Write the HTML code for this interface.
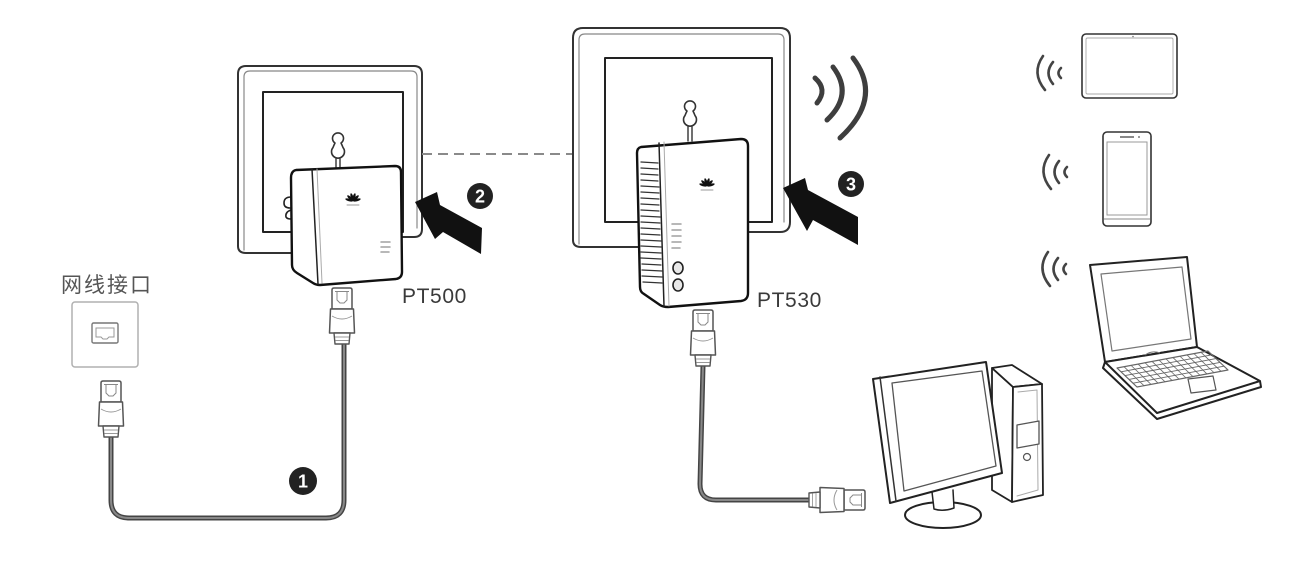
<!DOCTYPE html>
<html><head><meta charset="utf-8">
<style>
html,body{margin:0;padding:0;background:#fff;}
svg{display:block;}
</style></head>
<body>
<svg width="1307" height="574" viewBox="0 0 1307 574" xmlns="http://www.w3.org/2000/svg">
<rect x="0" y="0" width="1307" height="574" fill="#fff"/>

<!-- ===== Plate 1 ===== -->
<g fill="none" stroke-linecap="round" stroke-linejoin="round">
  <path d="M238,246 L238,74 Q238,66 246,66 L414,66 Q422,66 422,74 L422,229 Q422,237 414,237 L400,237" stroke="#333" stroke-width="2"/>
  <path d="M238,246 Q238,253 246,253 L294,253" stroke="#333" stroke-width="2"/>
  <path d="M244,250 L244,77 Q244,71 250,71 L411,71 Q417,71 417,77 L417,228" stroke="#888" stroke-width="1.2"/>
  <rect x="263" y="92" width="140" height="140" stroke="#222" stroke-width="2"/>
  <!-- keyhole -->
  <path d="M335,143 A5.5,5.5 0 1,1 341,143 Q342,145 343,147.5 A6.5,6.5 0 1,1 333,147.5 Q334,145 335,143 Z" stroke="#333" stroke-width="1.6"/>
  <path d="M336,159 L336,168 M340,159 L340,168" stroke="#333" stroke-width="1.4"/>
</g>

<!-- dashed link -->
<line x1="422" y1="154" x2="573" y2="154" stroke="#8a8a8a" stroke-width="2" stroke-dasharray="10,6"/>

<!-- ===== Plate 2 ===== -->
<g fill="none" stroke-linecap="round" stroke-linejoin="round">
  <path d="M573,240 L573,38 Q573,28 583,28 L780,28 Q790,28 790,38 L790,222 Q790,232 780,232 L747,232" stroke="#333" stroke-width="2"/>
  <path d="M573,240 Q573,247 581,247 L640,247" stroke="#333" stroke-width="2"/>
  <path d="M579,244 L579,40 Q579,34 585,34 L778,34 Q784,34 784,40 L784,222" stroke="#888" stroke-width="1.2"/>
  <rect x="605" y="58" width="167" height="164" stroke="#222" stroke-width="2"/>
  <path d="M687,111 A5.5,5.5 0 1,1 693,111 Q694,113 695,115.5 A6.5,6.5 0 1,1 685,115.5 Q686,113 687,111 Z" stroke="#333" stroke-width="1.6"/>
  <path d="M688,127 L688,141 M692,127 L692,141" stroke="#333" stroke-width="1.4"/>
</g>

<!-- waves -->
<g fill="none" stroke="#3e3e3e" stroke-width="5" stroke-linecap="round">
  <path d="M815,78 Q828,89.5 817,103"/>
  <path d="M833,67 Q854,94.5 827,120"/>
  <path d="M853,58 Q883.5,98 840,138"/>
</g>

<!-- ===== PT500 device ===== -->
<g stroke-linejoin="round" stroke-linecap="round">
  <path d="M291,197 Q284,197 284,203 Q284,208 290,208 M291,210 Q285,212 286,217 Q287,219 291,219" fill="none" stroke="#222" stroke-width="1.6"/>
  <path d="M296,170 L395,166 Q401,166 401,172 L402,272 Q402,278 396,279 L320,285 Q316,285 313,283 L297,273 Q292,270 292,265 L291,178 Q291,171 296,170 Z" fill="#fff" stroke="#111" stroke-width="2.4"/>
  <path d="M312,169 L318,284" stroke="#222" stroke-width="1.5" fill="none"/>
  <path d="M317,169 L322,283" stroke="#aaa" stroke-width="1" fill="none"/>
  <g transform="translate(353,201)" fill="#111">
    <ellipse cx="0" cy="-4" rx="1.3" ry="4" transform="rotate(-75)"/>
    <ellipse cx="0" cy="-4" rx="1.3" ry="4" transform="rotate(-45)"/>
    <ellipse cx="0" cy="-4" rx="1.3" ry="4" transform="rotate(-15)"/>
    <ellipse cx="0" cy="-4" rx="1.3" ry="4" transform="rotate(15)"/>
    <ellipse cx="0" cy="-4" rx="1.3" ry="4" transform="rotate(45)"/>
    <ellipse cx="0" cy="-4" rx="1.3" ry="4" transform="rotate(75)"/>
  </g>
  <line x1="347" y1="205" x2="359" y2="205" stroke="#999" stroke-width="0.9"/>
  <g stroke="#a0a0a0" stroke-width="1.5">
    <line x1="381" y1="242" x2="390" y2="242"/>
    <line x1="381" y1="247" x2="390" y2="247"/>
    <line x1="381" y1="252" x2="389" y2="252"/>
  </g>
</g>

<!-- ===== PT530 device ===== -->
<g stroke-linejoin="round" stroke-linecap="round">
  <path d="M641,147 L741,139 Q748,139 748,146 L748,293 Q748,300 741,301 L668,307 Q663,307 660,305 L644,294 Q640,292 640,287 L637,153 Q637,148 641,147 Z" fill="#fff" stroke="#111" stroke-width="2.4"/>
  <path d="M659,143 L664,306" stroke="#222" stroke-width="1.5" fill="none"/>
  <path d="M664,142 L669,306" stroke="#aaa" stroke-width="1" fill="none"/>
  <g stroke="#333" stroke-width="1.3">
    <line x1="641" y1="162" x2="658" y2="163"/><line x1="641" y1="168" x2="658" y2="169"/>
    <line x1="641" y1="174" x2="658" y2="175"/><line x1="641" y1="180" x2="658" y2="181"/>
    <line x1="641" y1="186" x2="659" y2="187"/><line x1="641" y1="192" x2="659" y2="193"/>
    <line x1="641" y1="198" x2="659" y2="199"/><line x1="641" y1="204" x2="659" y2="205"/>
    <line x1="641" y1="210" x2="659" y2="211"/><line x1="641" y1="216" x2="660" y2="217"/>
    <line x1="641" y1="222" x2="660" y2="223"/><line x1="641" y1="228" x2="660" y2="229"/>
    <line x1="641" y1="234" x2="660" y2="235"/><line x1="641" y1="240" x2="661" y2="241"/>
    <line x1="641" y1="246" x2="661" y2="247"/><line x1="641" y1="252" x2="661" y2="253"/>
    <line x1="641" y1="258" x2="661" y2="259"/><line x1="642" y1="264" x2="661" y2="265"/>
    <line x1="642" y1="270" x2="662" y2="271"/><line x1="642" y1="276" x2="662" y2="277"/>
    <line x1="643" y1="282" x2="662" y2="283"/>
  </g>
  <g transform="translate(707,186)" fill="#111">
    <ellipse cx="0" cy="-4" rx="1.3" ry="4" transform="rotate(-75)"/>
    <ellipse cx="0" cy="-4" rx="1.3" ry="4" transform="rotate(-45)"/>
    <ellipse cx="0" cy="-4" rx="1.3" ry="4" transform="rotate(-15)"/>
    <ellipse cx="0" cy="-4" rx="1.3" ry="4" transform="rotate(15)"/>
    <ellipse cx="0" cy="-4" rx="1.3" ry="4" transform="rotate(45)"/>
    <ellipse cx="0" cy="-4" rx="1.3" ry="4" transform="rotate(75)"/>
  </g>
  <line x1="701" y1="190" x2="713" y2="190" stroke="#999" stroke-width="0.9"/>
  <g stroke="#a0a0a0" stroke-width="1.5">
    <line x1="672" y1="224" x2="681" y2="224"/>
    <line x1="672" y1="230" x2="681" y2="230"/>
    <line x1="672" y1="236" x2="681" y2="236"/>
    <line x1="672" y1="242" x2="681" y2="242"/>
    <line x1="672" y1="248" x2="680" y2="248"/>
  </g>
  <ellipse cx="678" cy="268" rx="5" ry="6" fill="#e8e8e8" stroke="#222" stroke-width="1.6"/>
  <ellipse cx="678" cy="285" rx="5" ry="6" fill="#e8e8e8" stroke="#222" stroke-width="1.6"/>
</g>

<!-- ===== Arrows ===== -->
<polygon points="415,202 437,192 440,205 482,228 481,254 443,232 435,239" fill="#111"/>
<polygon points="783,188 805,178 808,190 858,217 858,245 813,220 807,231" fill="#111"/>

<!-- badges -->
<g font-family="Liberation Sans, sans-serif" font-weight="bold" font-size="18" fill="#fff" text-anchor="middle">
  <circle cx="303" cy="481" r="14" fill="#222"/>
  <text x="303" y="487.5">1</text>
  <circle cx="480" cy="196" r="13" fill="#222"/>
  <text x="480" y="202.5">2</text>
  <circle cx="851" cy="184" r="13" fill="#222"/>
  <text x="851" y="190.5">3</text>
</g>

<!-- labels -->
<g font-family="Liberation Sans, sans-serif" font-size="21" fill="#3a3a3a" letter-spacing="0.6">
  <text x="402" y="303">PT500</text>
  <text x="757" y="307">PT530</text>
</g>
<text x="61" y="292" font-family="Liberation Sans, 'Noto Sans CJK SC', sans-serif" font-size="21" letter-spacing="2" fill="#555">网线接口</text>

<!-- wall port -->
<rect x="72" y="302" width="66" height="65" rx="3" fill="#fff" stroke="#b0b0b0" stroke-width="1.5"/>
<rect x="92" y="323" width="26" height="20" rx="1.5" fill="#fff" stroke="#777" stroke-width="1.4"/>
<path d="M96,328 L114,328 L114,337 L109,337 L107,339 L103,339 L101,337 L96,337 Z" fill="none" stroke="#999" stroke-width="1"/>

<!-- ===== Cables ===== -->
<g fill="none" stroke-linecap="round" stroke-linejoin="round">
  <path d="M111,437 L111,500 Q111,518 129,518 L326,518 Q344,518 344,500 L344,344" stroke="#444" stroke-width="5"/>
  <path d="M111,437 L111,500 Q111,518 129,518 L326,518 Q344,518 344,500 L344,344" stroke="#888" stroke-width="2"/>
  <path d="M703,366 L700,484 Q700,500 716,500 L810,500" stroke="#444" stroke-width="5"/>
  <path d="M703,366 L700,484 Q700,500 716,500 L810,500" stroke="#888" stroke-width="2"/>
</g>

<!-- ===== Plugs ===== -->
<g id="plugA" transform="translate(111,381)" stroke-linejoin="round">
  <path d="M-10,2 Q-10,0 -8,0 L8,0 Q10,0 10,2 L10,21 L-10,21 Z" fill="#fff" stroke="#555" stroke-width="1.5"/>
  <path d="M-5,3 L-5,12 L-2,15 L2,15 L5,12 L5,3 M-7,3.5 L7,3.5" fill="none" stroke="#888" stroke-width="1"/>
  <path d="M-11.5,21 L11.5,21 L12.5,45 L-12.5,45 Z" fill="#fff" stroke="#555" stroke-width="1.5"/>
  <path d="M-10,28 Q0,34 10,28" fill="none" stroke="#999" stroke-width="1"/>
  <path d="M-8,45 L8,45 L7,56 L-7,56 Z" fill="#fff" stroke="#555" stroke-width="1.4"/>
  <path d="M-7,49 L7,49 M-6.5,52.5 L6.5,52.5" stroke="#999" stroke-width="0.9"/>
</g>
<g transform="translate(342,288)" stroke-linejoin="round">
  <path d="M-10,2 Q-10,0 -8,0 L8,0 Q10,0 10,2 L10,21 L-10,21 Z" fill="#fff" stroke="#555" stroke-width="1.5"/>
  <path d="M-5,3 L-5,12 L-2,15 L2,15 L5,12 L5,3 M-7,3.5 L7,3.5" fill="none" stroke="#888" stroke-width="1"/>
  <path d="M-11.5,21 L11.5,21 L12.5,45 L-12.5,45 Z" fill="#fff" stroke="#555" stroke-width="1.5"/>
  <path d="M-10,28 Q0,34 10,28" fill="none" stroke="#999" stroke-width="1"/>
  <path d="M-8,45 L8,45 L7,56 L-7,56 Z" fill="#fff" stroke="#555" stroke-width="1.4"/>
  <path d="M-7,49 L7,49 M-6.5,52.5 L6.5,52.5" stroke="#999" stroke-width="0.9"/>
</g>
<g transform="translate(703,310)" stroke-linejoin="round">
  <path d="M-10,2 Q-10,0 -8,0 L8,0 Q10,0 10,2 L10,21 L-10,21 Z" fill="#fff" stroke="#555" stroke-width="1.5"/>
  <path d="M-5,3 L-5,12 L-2,15 L2,15 L5,12 L5,3 M-7,3.5 L7,3.5" fill="none" stroke="#888" stroke-width="1"/>
  <path d="M-11.5,21 L11.5,21 L12.5,45 L-12.5,45 Z" fill="#fff" stroke="#555" stroke-width="1.5"/>
  <path d="M-10,28 Q0,34 10,28" fill="none" stroke="#999" stroke-width="1"/>
  <path d="M-8,45 L8,45 L7,56 L-7,56 Z" fill="#fff" stroke="#555" stroke-width="1.4"/>
  <path d="M-7,49 L7,49 M-6.5,52.5 L6.5,52.5" stroke="#999" stroke-width="0.9"/>
</g>
<g transform="translate(865,500) rotate(90)" stroke-linejoin="round">
  <path d="M-10,2 Q-10,0 -8,0 L8,0 Q10,0 10,2 L10,21 L-10,21 Z" fill="#fff" stroke="#555" stroke-width="1.5"/>
  <path d="M-5,3 L-5,12 L-2,15 L2,15 L5,12 L5,3 M-7,3.5 L7,3.5" fill="none" stroke="#888" stroke-width="1"/>
  <path d="M-11.5,21 L11.5,21 L12.5,45 L-12.5,45 Z" fill="#fff" stroke="#555" stroke-width="1.5"/>
  <path d="M-10,28 Q0,34 10,28" fill="none" stroke="#999" stroke-width="1"/>
  <path d="M-8,45 L8,45 L7,56 L-7,56 Z" fill="#fff" stroke="#555" stroke-width="1.4"/>
  <path d="M-7,49 L7,49 M-6.5,52.5 L6.5,52.5" stroke="#999" stroke-width="0.9"/>
</g>

<!-- ===== Desktop computer ===== -->
<g stroke-linejoin="round" stroke-linecap="round">
  <!-- tower -->
  <polygon points="992,368 1013,387 1012,502 992,490" fill="#fff" stroke="#222" stroke-width="1.8"/>
  <polygon points="992,368 1012,365 1042,384 1013,387" fill="#fff" stroke="#222" stroke-width="1.8"/>
  <polygon points="1013,387 1042,384 1043,495 1012,502" fill="#fff" stroke="#222" stroke-width="1.8"/>
  <polyline points="1018,392 1037,390 1038,490 1017,496" fill="none" stroke="#aaa" stroke-width="1"/>
  <polygon points="1017,425 1039,421 1039,444 1017,448" fill="#fff" stroke="#555" stroke-width="1.3"/>
  <circle cx="1027" cy="457" r="3.5" fill="#fff" stroke="#555" stroke-width="1.2"/>
  <!-- stand -->
  <ellipse cx="943" cy="515" rx="38" ry="13" fill="#fff" stroke="#222" stroke-width="2"/>
  <path d="M932,492 L934,509 Q943,512 954,508 L953,490" fill="#fff" stroke="#222" stroke-width="1.5"/>
  <!-- monitor -->
  <polygon points="873,379 986,362 1002,473 890,503" fill="#fff" stroke="#222" stroke-width="2"/>
  <line x1="880" y1="377" x2="896" y2="501" stroke="#333" stroke-width="1.5"/>
  <polygon points="892,383 982,371 996,466 904,491" fill="none" stroke="#555" stroke-width="1.3"/>
</g>

<!-- ===== Wireless icons ===== -->
<g fill="none" stroke="#444" stroke-width="2.6" stroke-linecap="round">
  <path d="M1043,56 Q1031,73 1045,90"/>
  <path d="M1053,62 Q1044,73 1053,84"/>
  <path d="M1061,68 Q1056,73 1061,78"/>

  <path d="M1049,155 Q1037,172 1051,189"/>
  <path d="M1059,161 Q1050,172 1059,183"/>
  <path d="M1067,167 Q1062,172 1067,177"/>

  <path d="M1048,252 Q1036,269 1050,286"/>
  <path d="M1058,258 Q1049,269 1058,280"/>
  <path d="M1066,264 Q1061,269 1066,274"/>
</g>

<!-- tablet -->
<rect x="1082" y="34" width="95" height="64" rx="4" fill="#fff" stroke="#333" stroke-width="1.6"/>
<rect x="1086" y="38" width="87" height="56" rx="1.5" fill="none" stroke="#aaa" stroke-width="0.9"/>
<circle cx="1133" cy="36.5" r="0.8" fill="#777"/>

<!-- phone -->
<rect x="1103" y="132" width="48" height="94" rx="4" fill="#fff" stroke="#333" stroke-width="1.6"/>
<rect x="1107" y="142" width="40" height="73" fill="none" stroke="#999" stroke-width="1"/>
<line x1="1120" y1="137" x2="1134" y2="137" stroke="#555" stroke-width="1.4"/>
<circle cx="1139" cy="137" r="0.9" fill="#555"/>
<line x1="1104" y1="219" x2="1150" y2="219" stroke="#888" stroke-width="1"/>

<!-- laptop -->
<g stroke-linejoin="round">
  <polygon points="1090,265 1187,257 1197,347 1105,362" fill="#fff" stroke="#222" stroke-width="2"/>
  <polygon points="1101,274 1182,267 1191,339 1112,351" fill="none" stroke="#777" stroke-width="1.2"/>
  <path d="M1105,362 L1103,368 L1157,419 L1261,387 L1260,381" fill="#fff" stroke="#222" stroke-width="2"/>
  <polygon points="1105,362 1197,347 1260,381 1157,413" fill="#fff" stroke="#222" stroke-width="2"/>
  <path d="M1145,355 Q1152,350 1160,353" fill="none" stroke="#777" stroke-width="1"/>
  <g transform="matrix(91,-17,20,19,1117,368)" fill="none" stroke="#666">
    <rect x="0" y="0" width="1" height="1" stroke-width="1.2" vector-effect="non-scaling-stroke"/>
    <path d="M0,0.2 L1,0.2 M0,0.4 L1,0.4 M0,0.6 L1,0.6 M0,0.8 L1,0.8" stroke-width="0.9" vector-effect="non-scaling-stroke"/>
    <path d="M0.077,0 L0.077,1 M0.154,0 L0.154,1 M0.231,0 L0.231,1 M0.308,0 L0.308,1 M0.385,0 L0.385,1 M0.462,0 L0.462,1 M0.538,0 L0.538,1 M0.615,0 L0.615,1 M0.692,0 L0.692,1 M0.769,0 L0.769,1 M0.846,0 L0.846,1 M0.923,0 L0.923,1" stroke-width="0.8" vector-effect="non-scaling-stroke"/>
  </g>
  <g transform="matrix(25,-3,3,14,1188,379)" fill="none" stroke="#555">
    <rect x="0" y="0" width="1" height="1" stroke-width="1.2" vector-effect="non-scaling-stroke"/>
  </g>
</g>

</svg>
</body></html>
